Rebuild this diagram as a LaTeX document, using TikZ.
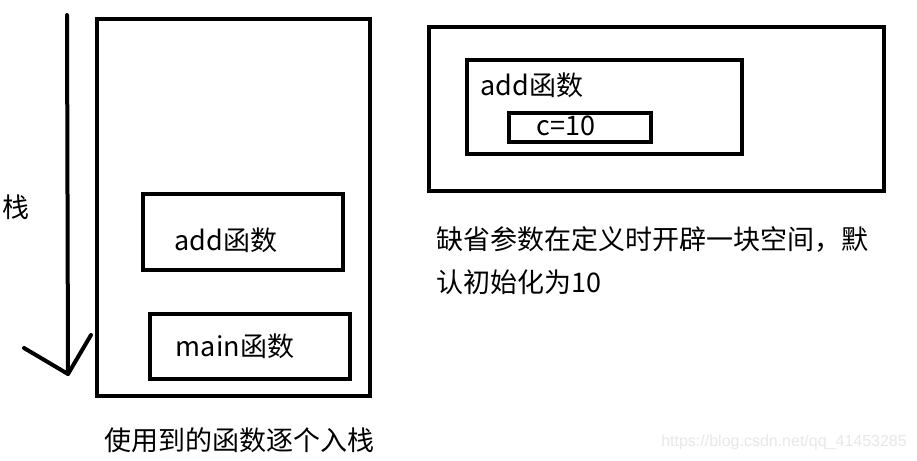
\documentclass[tikz,border=0pt]{standalone}
\usepackage{fontspec}
\setmainfont{Noto Sans CJK SC}
\newfontfamily\wmfont{Liberation Sans}
\begin{document}
\begin{tikzpicture}[x=1pt,y=-1pt,
  box/.style={draw=black,line width=4pt,anchor=north west},
  lbl/.style={font=\fontsize{27}{32}\selectfont,inner sep=0pt},
  wm/.style={font=\wmfont\fontsize{16}{18}\selectfont,text=black!9,inner sep=0pt}]
\useasboundingbox[fill=white] (0,0) rectangle (917,460);
% left stack
\draw[line width=4pt] (97,19) rectangle (370,396);
\node[box,minimum width=200pt,minimum height=76pt] (addL) at (141,192) {};
\node[box,minimum width=200pt,minimum height=65pt] (mainL) at (148,312) {};
\node[lbl] (addLt) at (226,240) {add函数};
\node[lbl] (mainLt) at (235,346) {main函数};
% arrow
\coordinate (top) at (67,15);
\coordinate (tip) at (68,374);
\coordinate (armL) at (24,348);
\coordinate (armR) at (91,335);
\draw[line width=4pt,line cap=round] (top) -- (tip);
\draw[line width=4pt,line cap=round,line join=round] (armL) -- (tip) -- (armR);
\node[lbl] (stack) at (16,207) {栈};
\node[lbl,anchor=west] (caption) at (104,440) {使用到的函数逐个入栈};
% right side
\draw[line width=4pt] (429,27) rectangle (884,191);
\node[box,minimum width=275pt,minimum height=94pt] (addR) at (465,58) {};
\node[box,minimum width=142pt,minimum height=29pt] (cbox) at (507,111) {};
\node[lbl] (addRt) at (532,85) {add函数};
\node[lbl] (ct) at (566,126) {c=10};
\node[lbl,anchor=west] (desc1) at (436,240) {缺省参数在定义时开辟一块空间，默};
\node[lbl,anchor=west] (desc2) at (436,282) {认初始化为10};
\node[wm,anchor=east] (wmk) at (907,442) {https://blog.csdn.net/qq\_41453285};
\end{tikzpicture}
\end{document}
